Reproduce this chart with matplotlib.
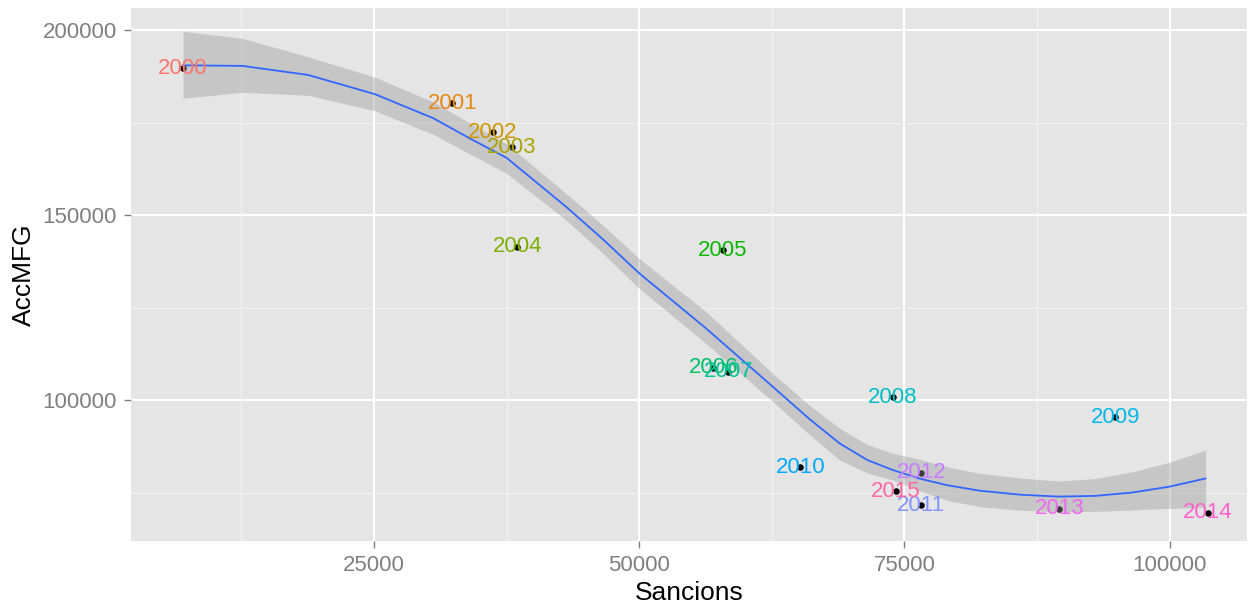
import numpy as np
import matplotlib
matplotlib.use("Agg")
import matplotlib.pyplot as plt

plt.rcParams['font.family'] = ['Liberation Sans', 'DejaVu Sans']

# data
years = ['2000', '2001', '2002', '2003', '2004', '2005', '2006', '2007',
         '2008', '2009', '2010', '2011', '2012', '2013', '2014', '2015']
sancions = [7000, 32400, 36200, 38000, 38500, 57900, 57000, 58400,
            73900, 94900, 65200, 76600, 76600, 89600, 103600, 74200]
accmfg = [189700, 180300, 172400, 168400, 141400, 140500, 108700, 107600,
          100800, 95400, 81900, 71600, 80300, 70600, 69500, 75300]

# smoothed trend and its band
smooth_x = [7000, 12600, 18800, 25100, 30600, 34000, 37500, 43100, 46500, 50000,
            56300, 62600, 66000, 68900, 71500, 73900, 76400, 79000, 82100,
            86000, 89600, 93000, 96500, 100000, 103400]
smooth_fit = [190500, 190350, 187900, 182700, 176200, 170800, 165500, 152300, 143700, 134300,
              119400, 103600, 95000, 88300, 83800, 81100, 78800, 77000, 75500,
              74400, 73900, 74100, 75000, 76600, 78800]
smooth_hi = [199700, 197800, 192800, 187300, 180600, 175000, 169300, 155900, 147500, 138300,
             123900, 107200, 98700, 92400, 88000, 85600, 84000, 82000, 80200,
             78900, 78100, 78800, 80600, 83200, 86500]
smooth_lo = [181600, 183200, 182400, 178200, 171800, 166600, 161300, 148700, 139900, 130200,
             115300, 99600, 90800, 83800, 80300, 78400, 75500, 72900, 71200,
             70200, 69800, 69900, 70300, 70700, 71000]

x_ticks = [25000, 50000, 75000, 100000]
y_ticks = [100000, 150000, 200000]


# ggplot-like hue palette (hcl with c=100, l=65)
def hue_pal(n, c=100.0, l=65.0):
    hues = np.linspace(15, 375, n + 1)[:-1]
    Xn, Yn, Zn = 95.047, 100.0, 108.883
    un = 4 * Xn / (Xn + 15 * Yn + 3 * Zn)
    vn = 9 * Yn / (Xn + 15 * Yn + 3 * Zn)
    out = []
    for h in hues:
        u = c * np.cos(np.radians(h))
        v = c * np.sin(np.radians(h))
        Y = Yn * ((l + 16) / 116) ** 3
        up = u / (13 * l) + un
        vp = v / (13 * l) + vn
        X = 9.0 * Y * up / (4 * vp)
        Z = -X / 3 - 5 * Y + 3 * Y / vp
        X, Y, Z = X / 100, Y / 100, Z / 100
        r = 3.240479 * X - 1.537150 * Y - 0.498535 * Z
        g = -0.969256 * X + 1.875992 * Y + 0.041556 * Z
        b = 0.055648 * X - 0.204043 * Y + 1.057311 * Z
        rgb = []
        for ch in (r, g, b):
            ch = 12.92 * ch if ch <= 0.0031308 else 1.055 * ch ** (1 / 2.4) - 0.055
            rgb.append(min(max(ch, 0), 1))
        out.append(tuple(rgb))
    return out


colors = hue_pal(len(years))

fig = plt.figure(figsize=(12.56, 6.07), dpi=100)
ax = fig.add_axes([131 / 1256, 1 - 541 / 607, (1247 - 131) / 1256, (541 - 8) / 607])
ax.set_facecolor('#E5E5E5')
for s in ax.spines.values():
    s.set_visible(False)

# grid lines
for v in [12500, 37500, 62500, 87500]:
    ax.axvline(v, color='#F2F2F2', lw=0.8, zorder=0)
for v in [75000, 125000, 175000]:
    ax.axhline(v, color='#F2F2F2', lw=0.8, zorder=0)
for v in x_ticks:
    ax.axvline(v, color='white', lw=1.5, zorder=0)
for v in y_ticks:
    ax.axhline(v, color='white', lw=1.5, zorder=0)

ax.scatter(sancions, accmfg, s=22, color='black', lw=0, zorder=2)

ax.fill_between(smooth_x, smooth_lo, smooth_hi, color='#999999', alpha=0.4, lw=0, zorder=3)
ax.plot(smooth_x, smooth_fit, color='#3366FF', lw=1.3, zorder=4)

for yr, xv, yv, c in zip(years, sancions, accmfg, colors):
    ax.text(xv, yv, yr, color=c, fontsize=16, ha='center', va='center', zorder=5)

ax.set_xlim(2100, 107300)
ax.set_ylim(61900, 206000)
ax.set_xticks(x_ticks)
ax.set_yticks(y_ticks)
ax.set_xticklabels([str(v) for v in x_ticks])
ax.set_yticklabels([str(v) for v in y_ticks])
ax.tick_params(colors='#7F7F7F', labelcolor='#7F7F7F', labelsize=16,
               length=5, width=1, direction='out', pad=5)

ax.set_xlabel('Sancions', fontsize=19, labelpad=4)
ax.set_ylabel('AccMFG', fontsize=19, labelpad=5)

fig.savefig('out.png', dpi=100)
